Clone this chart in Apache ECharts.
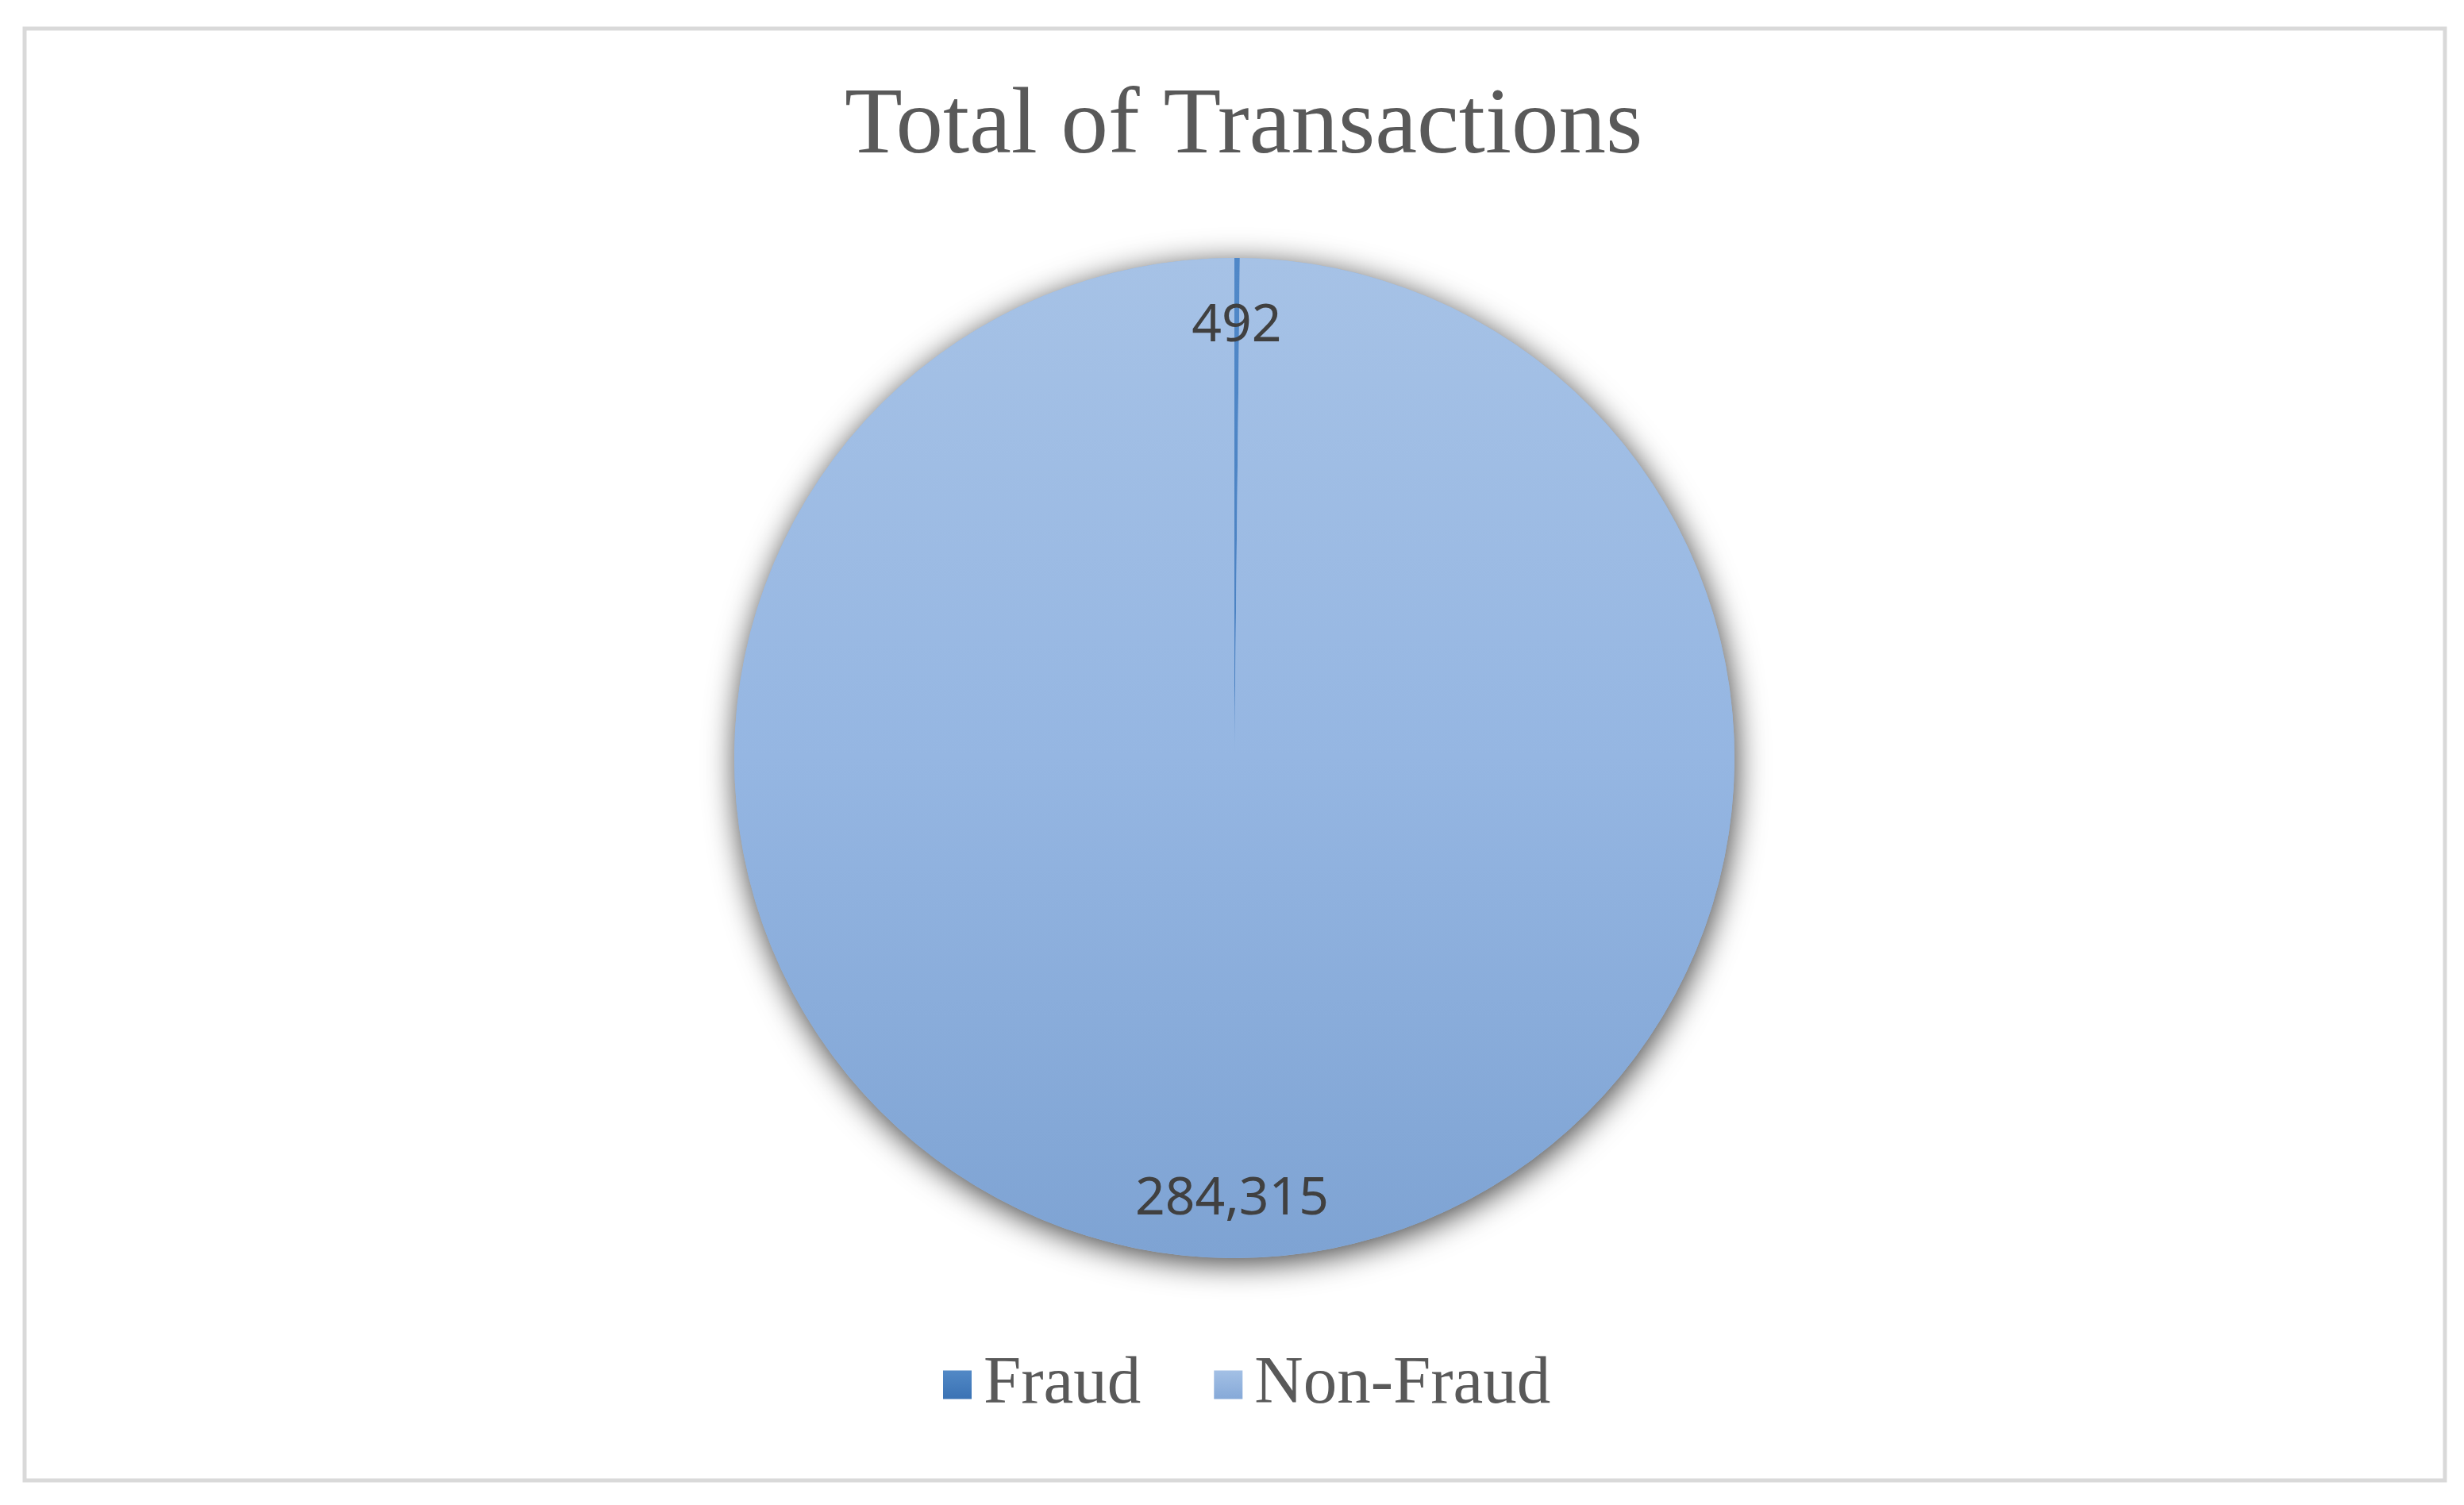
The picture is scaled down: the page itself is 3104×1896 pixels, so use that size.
<!DOCTYPE html>
<html>
<head>
<meta charset="utf-8">
<script src="https://cdn.jsdelivr.net/npm/echarts@6/dist/echarts.min.js"></script>
<style>
html,body{margin:0;padding:0;background:#ffffff;}
#chart{width:3104px;height:1896px;}
</style>
</head>
<body>
<div id="chart"></div>
<script>
const titleText = 'Total of Transactions';
const categories = ['Fraud', 'Non-Fraud'];
const values = [492, 284315];

const chart = echarts.init(document.getElementById('chart'), null, {renderer: 'canvas'});

const fillColors = [
  {type:'linear', x:0, y:0, x2:0, y2:1, colorStops:[{offset:0,color:'#5088c8'},{offset:1,color:'#4a80c0'}]},
  {type:'linear', x:0, y:0, x2:0, y2:1, colorStops:[{offset:0,color:'#a6c2e6'},{offset:0.5,color:'#95b6e2'},{offset:1,color:'#7ea3d3'}]}
];
const legendColors = [
  {type:'linear', x:0, y:0, x2:0, y2:1, colorStops:[{offset:0,color:'#5289c6'},{offset:1,color:'#3a72b4'}]},
  {type:'linear', x:0, y:0, x2:0, y2:1, colorStops:[{offset:0,color:'#a3c0e5'},{offset:1,color:'#86a9d8'}]}
];

const mainData = categories.map((c, i) => ({
  name: c, value: values[i], itemStyle: {color: fillColors[i]}
}));
const labelData = categories.map((c, i) => ({
  name: c, value: values[i]
}));
// shadow layer: the whole pie (sum of values) drawn below the slices
const shadowData = [{name: 'shadow', value: values.reduce((a, b) => a + b, 0)}];

chart.setOption({
  animation: false,
  backgroundColor: '#ffffff',
  graphic: [{
    type: 'rect',
    shape: {x: 31, y: 36, width: 3049, height: 1829},
    style: {fill: 'none', stroke: '#d9d9d9', lineWidth: 5},
    silent: true
  }],
  title: {
    text: titleText,
    left: 1059,
    top: 96,
    textStyle: {fontFamily: 'Liberation Serif', fontSize: 119, fontWeight: 'normal', color: '#595959'}
  },
  legend: {
    bottom: 104,
    left: 1183,
    icon: 'rect',
    itemWidth: 36,
    itemHeight: 36,
    itemGap: 92,
    selectedMode: false,
    data: categories.map((c, i) => ({name: c, itemStyle: {color: legendColors[i]}})),
    textStyle: {fontFamily: 'Liberation Serif', fontSize: 85, color: '#595959', padding: [0,0,0,10]}
  },
  series: [
    {
      type: 'pie',
      center: [1555, 955],
      radius: [0, 630],
      silent: true,
      label: {show: false},
      labelLine: {show: false},
      legendHoverLink: false,
      itemStyle: {
        color: '#95b6e2',
        borderWidth: 0,
        shadowBlur: 38,
        shadowColor: 'rgba(0,0,0,0.75)',
        shadowOffsetX: 2,
        shadowOffsetY: 7
      },
      emphasis: {disabled: true},
      data: shadowData
    },
    {
      type: 'pie',
      center: [1555, 955],
      radius: [0, 630],
      startAngle: 90,
      clockwise: true,
      silent: true,
      label: {show: false},
      labelLine: {show: false},
      itemStyle: {borderWidth: 0},
      emphasis: {disabled: true},
      data: mainData
    },
    {
      type: 'pie',
      center: [1555, 955],
      radius: [464, 630],
      startAngle: 90,
      clockwise: true,
      silent: true,
      itemStyle: {color: 'rgba(0,0,0,0)', borderWidth: 0},
      label: {
        show: true,
        position: 'inside',
        formatter: p => p.value.toLocaleString('en-US'),
        fontFamily: 'Noto Sans',
        fontSize: 66,
        color: '#404040',
        offset: [0, 6]
      },
      labelLine: {show: false},
      emphasis: {disabled: true},
      legendHoverLink: false,
      data: labelData
    }
  ]
});
</script>
</body>
</html>
